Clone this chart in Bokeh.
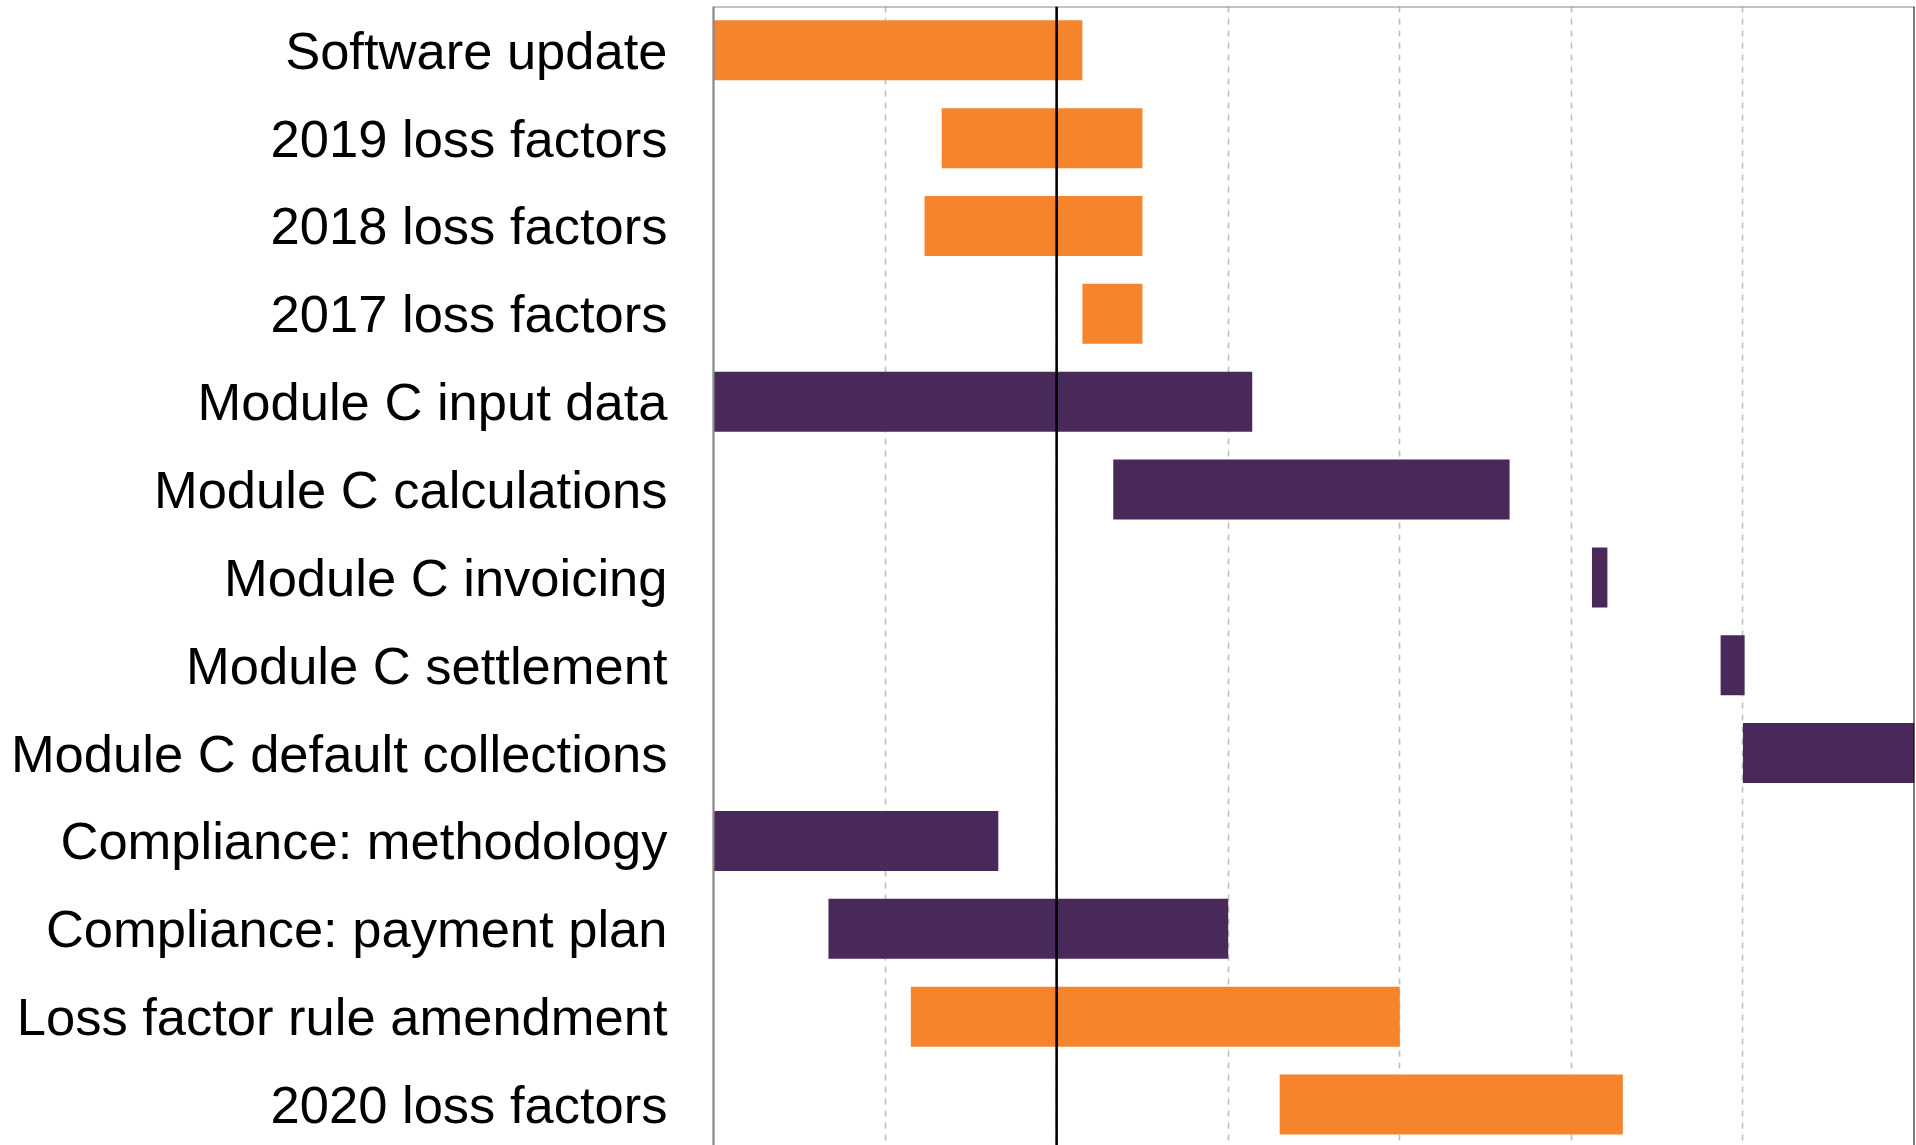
from bokeh.plotting import figure
from bokeh.models import Range1d, FixedTicker, Span, ColumnDataSource
from bokeh.embed import file_html
from bokeh.resources import INLINE

# ---- data (x in months from plot start; gridlines every month) ----
tasks = ["Software update", "2019 loss factors", "2018 loss factors", "2017 loss factors",
         "Module C input data", "Module C calculations", "Module C invoicing",
         "Module C settlement", "Module C default collections", "Compliance: methodology",
         "Compliance: payment plan", "Loss factor rule amendment", "2020 loss factors"]
starts = [0.0, 1.33, 1.23, 2.15, 0.0, 2.33, 5.12, 5.87, 6.0, 0.0, 0.67, 1.15, 3.30]
ends = [2.15, 2.50, 2.50, 2.50, 3.14, 4.64, 5.21, 6.01, 7.5, 1.66, 3.00, 4.00, 5.30]
groups = ["Loss factors", "Loss factors", "Loss factors", "Loss factors",
          "Module C", "Module C", "Module C", "Module C", "Module C",
          "Module C", "Module C", "Loss factors", "Loss factors"]
group_colors = {"Loss factors": "#F5842D", "Module C": "#48295A"}
grid_months = [1, 2, 3, 4, 5, 6]
today = 2.0
x_end = 7.0

rows = list(range(len(tasks)))
src = ColumnDataSource(dict(
    y=rows, left=starts, right=ends,
    color=[group_colors[g] for g in groups],
))

y_top = -0.4986
y_bottom = 12.467

p = figure(width=1916, height=1145, output_backend="svg", toolbar_location=None,
           x_range=Range1d(0, x_end), y_range=Range1d(y_bottom, y_top),
           min_border_left=713, min_border_right=2, min_border_top=6, min_border_bottom=0)

p.hbar(y="y", left="left", right="right", height=0.683, color="color",
       line_color=None, source=src)

p.outline_line_color = None
p.background_fill_color = "white"

# x axis hidden, but drives the dashed gridlines
p.xaxis.visible = False
p.xaxis.ticker = FixedTicker(ticks=grid_months)
p.xgrid.grid_line_color = "#BEBEBE"
p.xgrid.grid_line_dash = "6 6"
p.xgrid.grid_line_width = 1.6
p.ygrid.grid_line_color = None

yax = p.yaxis[0]
yax.ticker = FixedTicker(ticks=rows)
yax.major_label_overrides = {i: t for i, t in enumerate(tasks)}
yax.major_tick_line_color = None
yax.major_tick_out = 0
yax.major_tick_in = 0
yax.minor_tick_line_color = None
yax.axis_line_color = "#888888"
yax.axis_line_width = 2.2
yax.major_label_standoff = 46
yax.major_label_text_font = "Liberation Sans"
yax.major_label_text_font_size = "52.5px"
yax.major_label_text_color = "black"

# top border, today marker, right edge
p.add_layout(Span(location=y_top, dimension="width", line_color="#888888", line_width=2.2))
p.add_layout(Span(location=today, dimension="height", line_color="black", line_width=2.6))
p.add_layout(Span(location=x_end, dimension="height", line_color="black", line_width=2))

open("out.html", "w").write(file_html(p, INLINE))
